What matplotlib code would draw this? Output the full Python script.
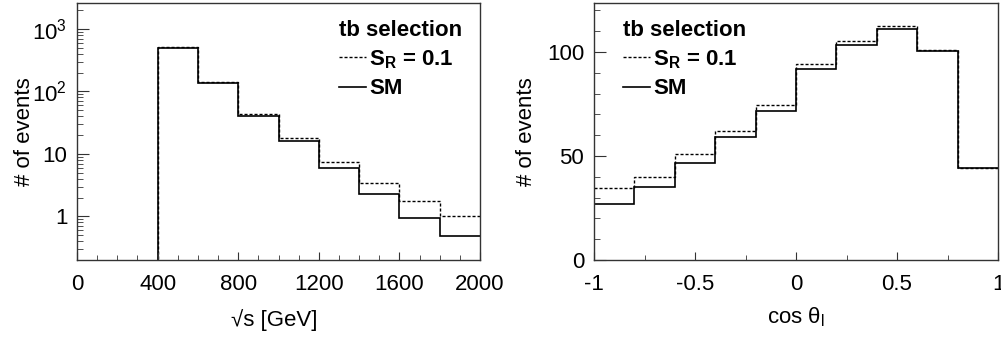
import numpy as np
import matplotlib
matplotlib.use('Agg')
import matplotlib.pyplot as plt
from matplotlib.lines import Line2D
from matplotlib.ticker import MultipleLocator, LogLocator, FixedLocator, NullFormatter

plt.rcParams['font.family'] = ['Liberation Sans', 'DejaVu Sans']
plt.rcParams['mathtext.fontset'] = 'custom'
plt.rcParams['mathtext.rm'] = 'Liberation Sans'
plt.rcParams['mathtext.it'] = 'Liberation Sans:italic'
plt.rcParams['mathtext.bf'] = 'Liberation Sans:bold'

# sqrt(s) distribution, bins of 200 GeV
sqrts_edges = np.arange(0, 2001, 200)
sqrts_sm = [0, 0, 500, 137, 40.5, 15.8, 5.9, 2.3, 0.95, 0.48]
sqrts_sr = [0, 0, 505, 140, 43.5, 17.9, 7.3, 3.4, 1.73, 1.0]

# cos theta_l distribution, bins of 0.2
cos_edges = np.linspace(-1, 1, 11)
cos_sm = [27.0, 35.0, 46.7, 58.9, 71.8, 91.7, 103.3, 111.0, 100.4, 44.0]
cos_sr = [34.7, 40.0, 50.9, 62.1, 74.7, 94.2, 105.2, 112.4, 100.9, 44.0]

title_txt = 'tb selection'
sr_label = r'$\mathbf{S_R}$ = 0.1'
sm_label = 'SM'

FS = 16

fig = plt.figure(figsize=(10.01, 3.43), dpi=100)
ax1 = fig.add_axes((77 / 1001, 83 / 343, 403 / 1001, 257 / 343))
ax2 = fig.add_axes((594 / 1001, 83 / 343, 404 / 1001, 257 / 343))

dash = (0, (2.2, 1.4))
for ax in (ax1, ax2):
    for s in ax.spines.values():
        s.set_color('#333333')
        s.set_linewidth(1.0)

# left panel
ax1.stairs(sqrts_sr, sqrts_edges, baseline=None, color='black', lw=1.0, linestyle=dash)
ax1.stairs(sqrts_sm, sqrts_edges, baseline=None, color='black', lw=1.2)
ax1.set_yscale('log')
ax1.set_xlim(0, 2000)
ax1.set_ylim(0.2, 2600)
ax1.xaxis.set_major_locator(MultipleLocator(400))
ax1.xaxis.set_minor_locator(MultipleLocator(100))
ax1.yaxis.set_major_locator(FixedLocator([1, 10, 100, 1000]))
ax1.yaxis.set_minor_locator(LogLocator(base=10, subs=np.arange(2, 10), numticks=20))
ax1.yaxis.set_minor_formatter(NullFormatter())
ax1.set_yticklabels(['1', '10', r'$\mathregular{10^2}$', r'$\mathregular{10^3}$'])
ax1.set_xlabel('√s [GeV]', fontsize=FS)
ax1.set_ylabel('# of events', fontsize=FS)
ax1.xaxis.set_label_coords(0.49, -0.19)
ax1.yaxis.set_label_coords(-0.104, 0.5)

# right panel
ax2.stairs(cos_sr, cos_edges, baseline=None, color='black', lw=1.0, linestyle=dash)
ax2.stairs(cos_sm, cos_edges, baseline=None, color='black', lw=1.2)
ax2.set_xlim(-1, 1)
ax2.set_ylim(0, 123.5)
ax2.xaxis.set_major_locator(FixedLocator([-1, -0.5, 0, 0.5, 1]))
ax2.xaxis.set_minor_locator(MultipleLocator(0.25))
ax2.set_xticklabels(['-1', '-0.5', '0', '0.5', '1'])
ax2.yaxis.set_major_locator(MultipleLocator(50))
ax2.yaxis.set_minor_locator(MultipleLocator(10))
ax2.set_xlabel(r'cos $\mathregular{\theta_l}$', fontsize=FS)
ax2.set_ylabel('# of events', fontsize=FS)
ax2.xaxis.set_label_coords(0.5, -0.178)
ax2.yaxis.set_label_coords(-0.141, 0.5)

for ax in (ax1, ax2):
    ax.tick_params(axis='both', which='both', direction='in', labelsize=FS,
                   color='#333333', top=False, right=False)
    ax.tick_params(axis='x', which='major', length=6, pad=10)
    ax.tick_params(axis='x', which='minor', length=3.5)
    ax.tick_params(axis='y', which='major', length=8.5, pad=7)
    ax.tick_params(axis='y', which='minor', length=4.5)

handles = [Line2D([], [], color='black', lw=1.0, linestyle=dash),
           Line2D([], [], color='black', lw=1.2)]
for ax, xpos in ((ax1, 0.65), (ax2, 0.072)):
    leg = ax.legend(handles, [sr_label, sm_label], title=title_txt,
                    loc='upper left', bbox_to_anchor=(xpos, 0.935),
                    frameon=False, borderpad=0, borderaxespad=0,
                    handlelength=1.2, handletextpad=0.15, labelspacing=0.34,
                    alignment='left',
                    prop={'size': FS, 'weight': 'bold'},
                    title_fontproperties={'size': FS, 'weight': 'bold'})

fig.savefig('out.png', dpi=100)
